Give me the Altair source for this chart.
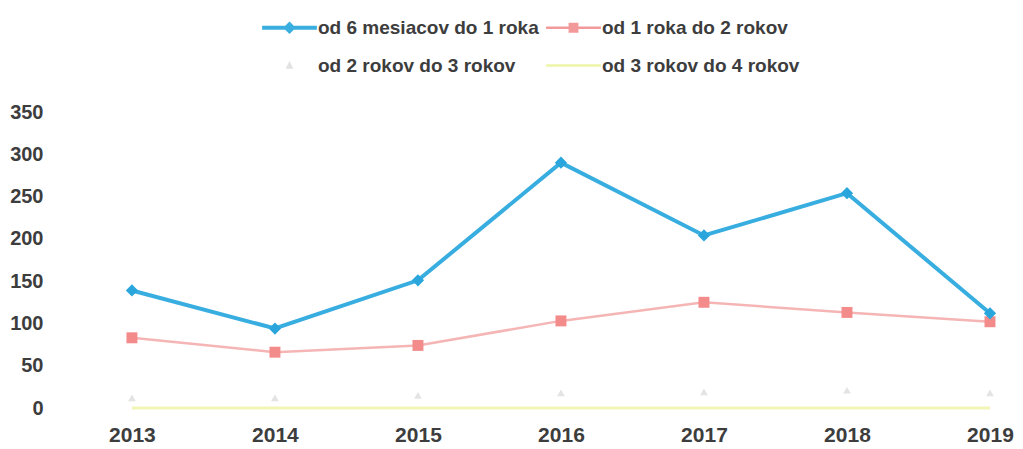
import altair as alt
import pandas as pd

years = [2013, 2014, 2015, 2016, 2017, 2018, 2019]
s_6m_1r = [139, 94, 151, 290, 204, 254, 112]
s_1r_2r = [83, 66, 74, 103, 125, 113, 102]
s_2r_3r = [12, 12, 15, 18, 19, 21, 18]
s_3r_4r = [0, 0, 0, 0, 0, 0, 0]
names = ["od 6 mesiacov do 1 roka", "od 1 roka do 2 rokov",
         "od 2 rokov do 3 rokov", "od 3 rokov do 4 rokov"]
y_ticks = [0, 50, 100, 150, 200, 250, 300, 350]

# legend is laid out column-major: column 1 = blue, gray; column 2 = pink, yellow
legend_order = [names[0], names[2], names[1], names[3]]
legend_colors = ["#3aafdf", "#e2e2e2", "#f29a9a", "#eef5a8"]
legend_shapes = [
    "M-1,-0.075H1V0.075H-1Z M0,-0.23L0.23,0L0,0.23L-0.23,0Z",
    "M0,-0.16L0.14,0.12L-0.14,0.12Z",
    "M-1,-0.045H1V0.045H-1Z M-0.18,-0.18H0.18V0.18H-0.18Z",
    "M-1,-0.05H1V0.05H-1Z",
]

rows = []
for name, vals in zip(names, [s_6m_1r, s_1r_2r, s_2r_3r, s_3r_4r]):
    for yr, v in zip(years, vals):
        rows.append({"year": yr, "value": v, "series": name})
df = pd.DataFrame(rows)

FONT = "Liberation Sans"
TXT = "#3d3d3d"

x_enc = alt.X("year:Q",
              scale=alt.Scale(domain=[2012.462, 2019.175], nice=False, zero=False),
              axis=alt.Axis(values=years, format="d", title=None, grid=False,
                            domain=False, ticks=False, tickSize=0,
                            labelFont=FONT, labelFontSize=21, labelFontWeight="bold",
                            labelColor=TXT, labelPadding=16))
y_enc = alt.Y("value:Q",
              scale=alt.Scale(domain=[0, 350], nice=False),
              axis=alt.Axis(values=y_ticks, title=None, grid=False,
                            domain=False, ticks=False, tickSize=0,
                            labelFont=FONT, labelFontSize=20, labelFontWeight="bold",
                            labelColor=TXT, labelPadding=12))

base = alt.Chart(df).encode(x=x_enc, y=y_enc)

def sel(i):
    return base.transform_filter(alt.datum.series == names[i])

blue_line = sel(0).mark_line(color="#38ade0", strokeWidth=4)
blue_pts = sel(0).mark_point(shape="diamond", filled=True, size=150,
                             color="#2aa6dc", opacity=1)
pink_line = sel(1).mark_line(color="#f5b5b5", strokeWidth=2.5)
pink_pts = sel(1).mark_point(shape="square", filled=True, size=120,
                             color="#f38b8b", opacity=1)
gray_pts = sel(2).mark_point(shape="triangle-up", filled=True, size=60,
                             color="#e4e4e4", opacity=1)
yellow_line = sel(3).mark_line(color="#f1f6b4", strokeWidth=3)

legend_layer = alt.Chart(df).transform_filter("false").mark_point(
    filled=True, opacity=1).encode(
    x=x_enc, y=y_enc,
    color=alt.Color("series:N", title=None,
                    scale=alt.Scale(domain=legend_order, range=legend_colors),
                    legend=alt.Legend(title=None)),
    shape=alt.Shape("series:N", title=None,
                    scale=alt.Scale(domain=legend_order, range=legend_shapes),
                    legend=alt.Legend(title=None)),
)

chart = alt.layer(
    yellow_line, gray_pts, pink_line, pink_pts, blue_line, blue_pts, legend_layer
).properties(
    width=960, height=296,
    autosize=alt.AutoSizeParams(type="none"),
    padding={"left": 47, "top": 104, "right": 0, "bottom": 37},
    background="white",
).configure_view(stroke=None).configure_legend(
    orient="none", legendX=207, legendY=-112, columns=2,
    symbolSize=3000, rowPadding=-6, columnPadding=7, labelOffset=1,
    labelFont=FONT, labelFontSize=19, labelFontWeight="bold", labelColor=TXT,
    labelLimit=500, padding=0, symbolOpacity=1, symbolStrokeWidth=0,
)

chart.save("out.html", embed_options={"renderer": "svg", "actions": False})
